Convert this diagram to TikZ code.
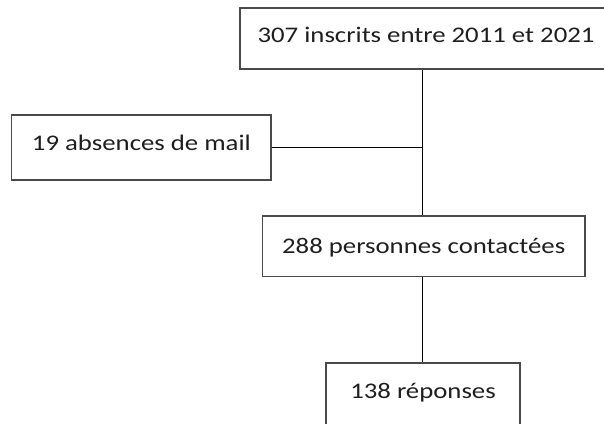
\documentclass[tikz,border=0pt]{standalone}
\usepackage{fontspec}
\setmainfont{Carlito}[FakeStretch=1.2]
\definecolor{boxline}{HTML}{4A4A4A}
\definecolor{txt}{HTML}{1E1E1E}
\begin{document}
\begin{tikzpicture}[x=1pt,y=-1pt,
  flowbox/.style={draw=boxline, line width=1.3pt, rectangle, inner sep=0pt,
    text=txt, font=\fontsize{22.3}{26}\selectfont,
    text height=16.6pt, text depth=2.5pt},
  conn/.style={draw=black, line width=1pt}]
\useasboundingbox (0,0) rectangle (604,423);
\node[flowbox, minimum width=372pt, minimum height=61pt] (box1) at (426,38.5)
  {\raisebox{3.5pt}{307 inscrits entre 2011 et 2021}};
\node[flowbox, minimum width=259.3pt, minimum height=65pt] (box2) at (141.4,147.5)
  {\raisebox{4.5pt}{19 absences de mail}};
\node[flowbox, minimum width=322.7pt, minimum height=60.3pt] (box3) at (423.7,246)
  {288 personnes contactées};
\node[flowbox, minimum width=194pt, minimum height=67pt] (box4) at (423,396.5)
  {\raisebox{4.8pt}{138 réponses}};
\coordinate (trunk) at ([xshift=-1.4pt]box3.north);
\draw[conn] (trunk |- box1.south) -- (trunk);
\draw[conn] (box2.east) -- (box2.east -| trunk);
\draw[conn] (trunk |- box3.south) -- (trunk |- box4.north);
\end{tikzpicture}
\end{document}
